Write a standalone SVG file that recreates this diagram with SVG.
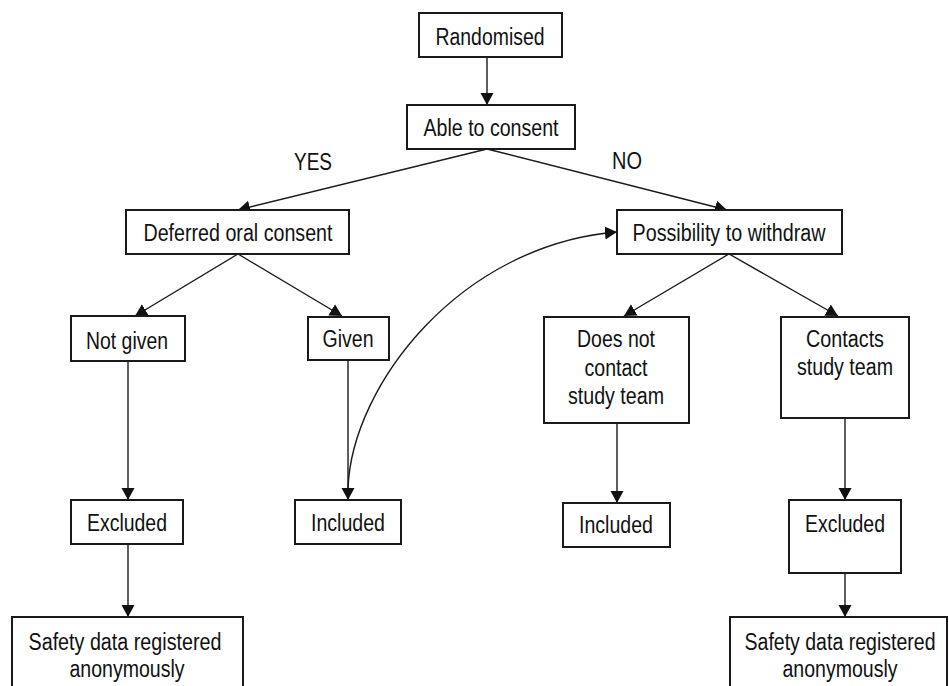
<svg xmlns="http://www.w3.org/2000/svg" width="949" height="686" viewBox="0 0 949 686">
<defs>
<style>
.box{fill:#fff;stroke:#1a1a1a;stroke-width:2}
.t{font-family:"Liberation Sans",Arial,sans-serif;font-size:23px;fill:#111;text-anchor:middle}
.c{fill:none;stroke:#1a1a1a;stroke-width:1.4}
</style>
<marker id="ah" markerUnits="userSpaceOnUse" markerWidth="14" markerHeight="16" viewBox="0 0 14 16" refX="12" refY="8" orient="auto">
<path d="M0,1.5 L12,8 L0,14.5 Z" fill="#111"/>
</marker>
</defs>
<rect width="949" height="686" fill="#fff"/>
<g id="connectors">
<line class="c" x1="487" y1="57" x2="487" y2="105" marker-end="url(#ah)"/>
<line class="c" x1="487" y1="149" x2="238" y2="210" marker-end="url(#ah)"/>
<line class="c" x1="487" y1="149" x2="727" y2="210" marker-end="url(#ah)"/>
<line class="c" x1="238" y1="254" x2="135" y2="316" marker-end="url(#ah)"/>
<line class="c" x1="238" y1="254" x2="342" y2="316" marker-end="url(#ah)"/>
<line class="c" x1="729" y1="254" x2="624" y2="316" marker-end="url(#ah)"/>
<line class="c" x1="729" y1="254" x2="838" y2="316" marker-end="url(#ah)"/>
<line class="c" x1="128" y1="361" x2="128" y2="500" marker-end="url(#ah)"/>
<line class="c" x1="348" y1="360" x2="348" y2="500" marker-end="url(#ah)"/>
<line class="c" x1="128" y1="544" x2="128" y2="617" marker-end="url(#ah)"/>
<line class="c" x1="617" y1="423" x2="617" y2="503" marker-end="url(#ah)"/>
<line class="c" x1="845" y1="418" x2="845" y2="500" marker-end="url(#ah)"/>
<line class="c" x1="845" y1="573" x2="845" y2="617" marker-end="url(#ah)"/>
<path class="c" d="M348,488 C352,385 460,245 617,232" marker-end="url(#ah)"/>
</g>
<g id="label-yes"><text class="t" x="313" y="170" textLength="38" lengthAdjust="spacingAndGlyphs">YES</text></g>
<g id="label-no"><text class="t" x="627" y="169" textLength="30" lengthAdjust="spacingAndGlyphs">NO</text></g>
<g id="randomised">
<rect class="box" x="419" y="13" width="143" height="44"/>
<text class="t" x="490" y="45" textLength="109" lengthAdjust="spacingAndGlyphs">Randomised</text>
</g>
<g id="able">
<rect class="box" x="407" y="105" width="168" height="44"/>
<text class="t" x="491" y="136" textLength="135" lengthAdjust="spacingAndGlyphs">Able to consent</text>
</g>
<g id="deferred">
<rect class="box" x="126" y="210" width="223" height="44"/>
<text class="t" x="238" y="241" textLength="189" lengthAdjust="spacingAndGlyphs">Deferred oral consent</text>
</g>
<g id="possibility">
<rect class="box" x="617" y="210" width="225" height="44"/>
<text class="t" x="729" y="241" textLength="193" lengthAdjust="spacingAndGlyphs">Possibility to withdraw</text>
</g>
<g id="notgiven">
<rect class="box" x="71" y="316" width="114" height="45"/>
<text class="t" x="127" y="349" textLength="82" lengthAdjust="spacingAndGlyphs">Not given</text>
</g>
<g id="given">
<rect class="box" x="308" y="317" width="81" height="43"/>
<text class="t" x="348" y="347" textLength="51" lengthAdjust="spacingAndGlyphs">Given</text>
</g>
<g id="doesnot">
<rect class="box" x="544" y="317" width="145" height="106"/>
<text class="t" x="616" y="347" textLength="78" lengthAdjust="spacingAndGlyphs">Does not</text>
<text class="t" x="616" y="376" textLength="63" lengthAdjust="spacingAndGlyphs">contact</text>
<text class="t" x="616" y="404" textLength="96" lengthAdjust="spacingAndGlyphs">study team</text>
</g>
<g id="contacts">
<rect class="box" x="781" y="317" width="128" height="101"/>
<text class="t" x="845" y="347" textLength="78" lengthAdjust="spacingAndGlyphs">Contacts</text>
<text class="t" x="845" y="375" textLength="96" lengthAdjust="spacingAndGlyphs">study team</text>
</g>
<g id="excluded-left">
<rect class="box" x="71" y="500" width="112" height="44"/>
<text class="t" x="127" y="531" textLength="80" lengthAdjust="spacingAndGlyphs">Excluded</text>
</g>
<g id="included-left">
<rect class="box" x="295" y="500" width="106" height="44"/>
<text class="t" x="348" y="531" textLength="74" lengthAdjust="spacingAndGlyphs">Included</text>
</g>
<g id="included-right">
<rect class="box" x="563" y="503" width="107" height="44"/>
<text class="t" x="616" y="533" textLength="74" lengthAdjust="spacingAndGlyphs">Included</text>
</g>
<g id="excluded-right">
<rect class="box" x="789" y="500" width="112" height="73"/>
<text class="t" x="845" y="532" textLength="80" lengthAdjust="spacingAndGlyphs">Excluded</text>
</g>
<g id="safety-left">
<rect class="box" x="12" y="617" width="231" height="80"/>
<text class="t" x="125" y="650" textLength="193" lengthAdjust="spacingAndGlyphs">Safety data registered</text>
<text class="t" x="127" y="677" textLength="115" lengthAdjust="spacingAndGlyphs">anonymously</text>
</g>
<g id="safety-right">
<rect class="box" x="730" y="617" width="217" height="80"/>
<text class="t" x="840" y="650" textLength="191" lengthAdjust="spacingAndGlyphs">Safety data registered</text>
<text class="t" x="840" y="677" textLength="115" lengthAdjust="spacingAndGlyphs">anonymously</text>
</g>
</svg>
